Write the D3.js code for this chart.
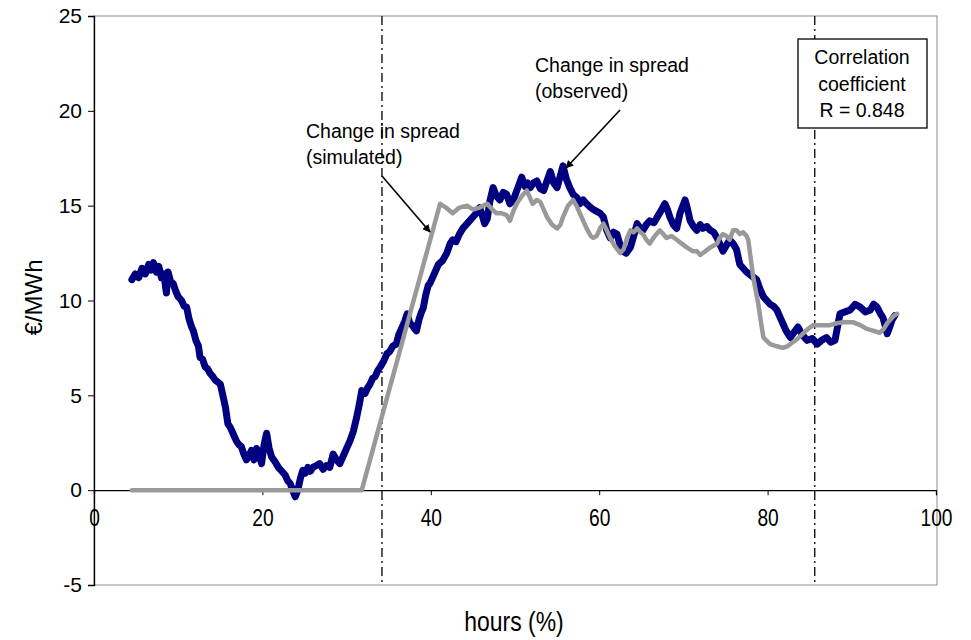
<!DOCTYPE html>
<html>
<head>
<meta charset="utf-8">
<script src="https://cdn.jsdelivr.net/npm/d3@7"></script>
<style>
  html, body { margin: 0; padding: 0; background: #fff; }
  svg { display: block; }
  text { font-family: "Liberation Sans", Arial, sans-serif; fill: #000; }
</style>
</head>
<body>
<svg id="chart" width="971" height="640"></svg>
<script>
// Share of hours (%) and spread change (€/MWh), observed series
const observedX = [4.5,4.9,5.3,5.7,6.1,6.5,6.8,7.05,7.4,7.7,8.0,8.3,8.6,8.8,9.1,9.4,9.7,10.0,10.4,10.7,11.0,11.3,11.6,11.8,12.1,12.4,12.6,12.9,13.2,13.5,13.8,14.1,14.4,14.7,15.0,15.3,15.6,15.9,16.2,16.5,16.9,17.2,17.5,17.8,18.1,18.4,18.7,19.0,19.3,19.6,19.9,20.2,20.5,20.8,21.1,21.5,21.9,22.3,22.7,23.0,23.3,23.6,23.9,24.2,24.5,24.8,25.1,25.4,25.7,26.0,26.4,26.8,27.2,27.6,28.0,28.4,28.8,29.2,29.6,30.0,30.4,30.8,31.2,31.5,31.8,32.2,32.5,32.8,33.1,33.4,33.7,34.0,34.4,34.8,35.1,35.5,35.9,36.2,36.6,36.9,37.2,37.5,37.8,38.1,38.3,38.6,38.9,39.1,39.4,39.7,39.9,40.3,40.9,41.4,41.9,42.3,42.6,43.0,43.4,43.8,44.2,44.6,45.0,45.4,45.8,46.1,46.4,46.7,47.0,47.4,47.8,48.2,48.6,49.0,49.4,49.8,50.3,50.8,51.2,51.5,51.8,52.2,52.6,53.0,53.4,53.8,54.2,54.6,55.0,55.4,55.7,56.1,56.5,56.9,57.4,57.7,58.1,58.5,59.0,59.3,59.7,60.1,60.5,60.9,61.3,61.7,62.1,62.5,62.8,63.2,63.7,64.1,64.5,64.9,65.2,65.6,66.0,66.5,66.9,67.3,67.8,68.1,68.4,68.8,69.2,69.6,70.2,70.5,70.8,71.2,71.6,72.0,72.3,72.8,73.2,73.6,74.0,74.4,74.7,75.1,75.5,75.9,76.3,76.7,77.1,77.5,78.1,78.7,79.1,79.5,79.9,80.3,80.7,81.1,81.5,81.8,82.2,82.7,83.1,83.6,84.1,84.7,85.3,85.9,86.4,87.0,87.5,88.0,88.3,88.6,89.2,89.8,90.4,91.0,91.6,92.2,92.6,93.0,93.4,93.7,94.0,94.2,94.5,94.8,95.1];
const observedY = [11.1,11.4,11.2,11.7,11.4,11.9,11.6,12.0,11.5,11.8,11.2,11.4,10.4,11.5,11.0,10.9,10.5,10.2,10.0,9.7,9.65,9.0,8.6,8.4,7.9,7.6,7.0,6.9,6.5,6.4,6.15,6.0,5.8,5.7,5.6,5.0,4.4,3.5,3.3,3.0,2.6,2.4,2.3,1.9,1.6,1.8,2.1,1.6,2.2,1.9,1.4,2.4,3.0,2.2,1.75,1.5,1.2,1.0,0.8,0.5,0.35,0.0,-0.35,0.0,0.6,1.05,0.9,1.2,1.0,1.2,1.3,1.4,1.1,1.3,1.2,1.9,1.6,1.4,1.8,2.2,2.6,3.1,3.85,4.5,5.25,5.1,5.4,5.6,5.9,6.0,6.3,6.5,6.8,7.2,7.3,7.6,7.7,8.2,8.6,8.9,9.3,8.8,8.7,8.5,8.4,9.0,9.4,9.6,10.3,10.8,10.9,11.3,11.9,12.1,12.5,13.0,13.2,13.1,13.5,13.8,14.0,14.2,14.4,14.6,14.9,14.5,14.05,14.3,15.2,15.95,15.5,15.3,15.7,15.6,15.1,15.3,15.9,16.5,16.0,16.2,15.95,16.2,16.3,15.9,15.8,16.3,16.8,16.2,15.95,16.6,17.1,16.4,15.95,15.6,15.4,15.1,15.3,15.1,14.9,14.8,14.7,14.6,14.4,13.7,13.3,13.6,13.5,12.9,12.6,12.5,12.8,13.4,14.05,13.8,13.7,14.0,14.2,14.1,14.4,14.7,15.1,14.8,14.4,14.0,13.8,14.6,15.3,14.8,14.2,13.9,13.7,14.0,13.8,13.9,13.7,13.6,13.3,12.9,12.6,12.9,13.2,13.0,12.7,11.9,11.7,11.5,11.3,11.1,10.6,10.2,10.0,9.8,9.7,9.5,9.1,8.8,8.4,8.05,8.3,8.6,8.2,7.9,8.0,7.7,7.9,8.05,7.8,7.9,8.6,9.3,9.4,9.5,9.8,9.65,9.4,9.5,9.8,9.65,9.3,9.1,8.6,8.25,8.6,9.0,9.2];

// Simulated series
const simulatedX = [4.5,31.8,41.1,41.8,42.6,43.4,44.3,45.0,45.8,46.7,47.3,47.8,48.4,49.0,49.4,49.8,50.2,50.8,51.4,51.8,52.1,52.6,53.0,53.4,53.8,54.4,55.0,55.4,55.7,56.3,56.9,57.3,57.7,58.1,58.5,59.0,59.3,59.7,60.1,60.5,60.9,61.3,61.8,62.5,62.9,63.3,63.7,64.1,64.5,64.9,65.2,65.6,66.0,66.6,67.2,67.6,68.0,68.6,69.2,69.8,70.4,71.1,71.6,72.0,72.6,73.2,73.6,74.0,74.3,74.7,75.1,75.5,75.9,76.3,76.7,77.1,77.5,77.7,78.0,78.3,78.6,78.9,79.2,79.5,80.3,81.0,81.8,82.4,83.0,83.6,84.2,84.8,85.4,86.4,87.4,88.2,89.0,90.2,91.0,91.8,92.6,93.3,93.8,94.2,94.6,95.0,95.4];
const simulatedY = [0,0,15.1,14.9,14.6,14.9,15.0,14.8,14.9,15.1,14.8,14.6,14.6,14.5,14.2,14.7,15.1,15.5,15.8,15.4,15.1,15.3,15.2,14.8,14.4,14.0,13.8,14.0,14.4,15.0,15.3,15.0,14.6,14.2,13.8,13.4,13.3,13.4,13.8,14.05,13.7,13.3,12.9,12.5,12.7,13.3,13.7,13.6,13.8,13.6,13.5,13.2,13.0,13.4,13.7,13.5,13.3,13.4,13.2,13.0,12.8,12.6,12.6,12.4,12.6,12.8,12.9,13.0,13.3,13.5,13.4,13.2,13.7,13.7,13.5,13.6,13.4,13.2,12.2,11.2,10.5,9.8,8.9,8.05,7.7,7.6,7.5,7.6,7.8,8.0,8.25,8.5,8.7,8.7,8.7,8.8,8.85,8.85,8.7,8.5,8.4,8.3,8.5,8.8,9.0,9.2,9.3];

// Axis ticks and reference lines (hours %)
const xTicks = [0, 20, 40, 60, 80, 100];
const yTicks = [-5, 0, 5, 10, 15, 20, 25];
const referenceHours = [34.2, 85.6];
const boxLines = ["Correlation", "coefficient", "R = 0.848"];

const svg = d3.select("#chart");
const plotLeft = 94, plotRight = 936, plotTop = 16, plotBottom = 585;
const narrow = 0.8; // horizontal squeeze for the condensed x-axis lettering

const x = d3.scaleLinear().domain([0, 100]).range([plotLeft, plotRight]);
const y = d3.scaleLinear().domain([-5, 25]).range([plotBottom, plotTop]);
const numFmt = d => String(d); // plain hyphen for negatives

// plot frame: grey top, right, bottom
svg.append("rect")
  .attr("x", plotLeft).attr("y", plotTop)
  .attr("width", plotRight - plotLeft + 1).attr("height", plotBottom - plotTop)
  .attr("fill", "none").attr("stroke", "#8c8c8c").attr("stroke-width", 1);

// Y axis on the left
const yAxis = svg.append("g")
  .attr("transform", `translate(${plotLeft},0)`)
  .call(d3.axisLeft(y).tickValues(yTicks).tickSize(6).tickPadding(6).tickFormat(numFmt));
yAxis.select(".domain").attr("stroke", "#000").attr("stroke-width", 1.3);
yAxis.selectAll(".tick line").attr("stroke", "#000");
yAxis.selectAll("text")
  .attr("font-size", 21).attr("font-family", "Liberation Sans, Arial, sans-serif");

// X axis at y = 0
const xAxis = svg.append("g")
  .attr("transform", `translate(0,${y(0)})`)
  .call(d3.axisBottom(x).tickValues(xTicks).tickSize(5).tickPadding(14).tickFormat(numFmt));
xAxis.select(".domain").attr("stroke", "#000").attr("stroke-width", 1.3);
xAxis.selectAll(".tick line").attr("stroke", "#000");
xAxis.selectAll("text")
  .attr("font-size", 24)
  .attr("font-family", "Liberation Sans, Arial, sans-serif")
  .attr("transform", `scale(${narrow},1)`);

// dash-dot reference lines
svg.selectAll("line.ref")
  .data(referenceHours)
  .join("line")
  .attr("class", "ref")
  .attr("x1", d => x(d)).attr("x2", d => x(d))
  .attr("y1", plotTop).attr("y2", plotBottom)
  .attr("stroke", "#000").attr("stroke-width", 1.3)
  .attr("stroke-dasharray", "9,4,2,4");

const line = d3.line().x(d => x(d[0])).y(d => y(d[1])).curve(d3.curveLinear);

const observed = observedX.map((v, i) => [v, observedY[i]]);
const simulated = simulatedX.map((v, i) => [v, simulatedY[i]]);

svg.append("path")
  .datum(observed)
  .attr("d", line)
  .attr("fill", "none")
  .attr("stroke", "#000080")
  .attr("stroke-width", 7)
  .attr("stroke-linejoin", "round")
  .attr("stroke-linecap", "round");

svg.append("path")
  .datum(simulated)
  .attr("d", line)
  .attr("fill", "none")
  .attr("stroke", "#999999")
  .attr("stroke-width", 4.5)
  .attr("stroke-linejoin", "round")
  .attr("stroke-linecap", "round");

// arrow marker
svg.append("defs").append("marker")
  .attr("id", "arrow")
  .attr("viewBox", "0 0 10 10")
  .attr("refX", 9).attr("refY", 5)
  .attr("markerWidth", 8).attr("markerHeight", 8)
  .attr("markerUnits", "userSpaceOnUse")
  .attr("orient", "auto")
  .append("path").attr("d", "M0,0L10,5L0,10z").attr("fill", "#000");

// annotations
const notes = [
  { lines: ["Change in spread", "(observed)"], tx: 535, ty: 72, from: [620, 110], to: [566, 168] },
  { lines: ["Change in spread", "(simulated)"], tx: 306, ty: 138, from: [382, 176], to: [430, 232] }
];
notes.forEach(n => {
  const t = svg.append("text").attr("x", n.tx).attr("y", n.ty).attr("font-size", 19.5);
  n.lines.forEach((s, i) => t.append("tspan").attr("x", n.tx).attr("dy", i === 0 ? 0 : 26).text(s));
  svg.append("line")
    .attr("x1", n.from[0]).attr("y1", n.from[1])
    .attr("x2", n.to[0]).attr("y2", n.to[1])
    .attr("stroke", "#000").attr("stroke-width", 1.6)
    .attr("marker-end", "url(#arrow)");
});

// correlation box
svg.append("rect")
  .attr("x", 798).attr("y", 39).attr("width", 129).attr("height", 89)
  .attr("fill", "#fff").attr("stroke", "#000").attr("stroke-width", 1.3);
svg.append("g").selectAll("text")
  .data(boxLines)
  .join("text")
  .attr("x", 862).attr("y", (d, i) => 64 + i * 26.5)
  .attr("text-anchor", "middle")
  .attr("font-size", 19.5)
  .text(d => d);

// axis titles
svg.append("text")
  .attr("transform", `translate(42,${(plotTop + plotBottom) / 2 - 3}) rotate(-90)`)
  .attr("text-anchor", "middle")
  .attr("font-size", 24)
  .text("€/MWh");

svg.append("text")
  .attr("transform", `translate(514,631) scale(${narrow + 0.05},1)`)
  .attr("text-anchor", "middle")
  .attr("font-size", 27)
  .text("hours (%)");
</script>
</body>
</html>
